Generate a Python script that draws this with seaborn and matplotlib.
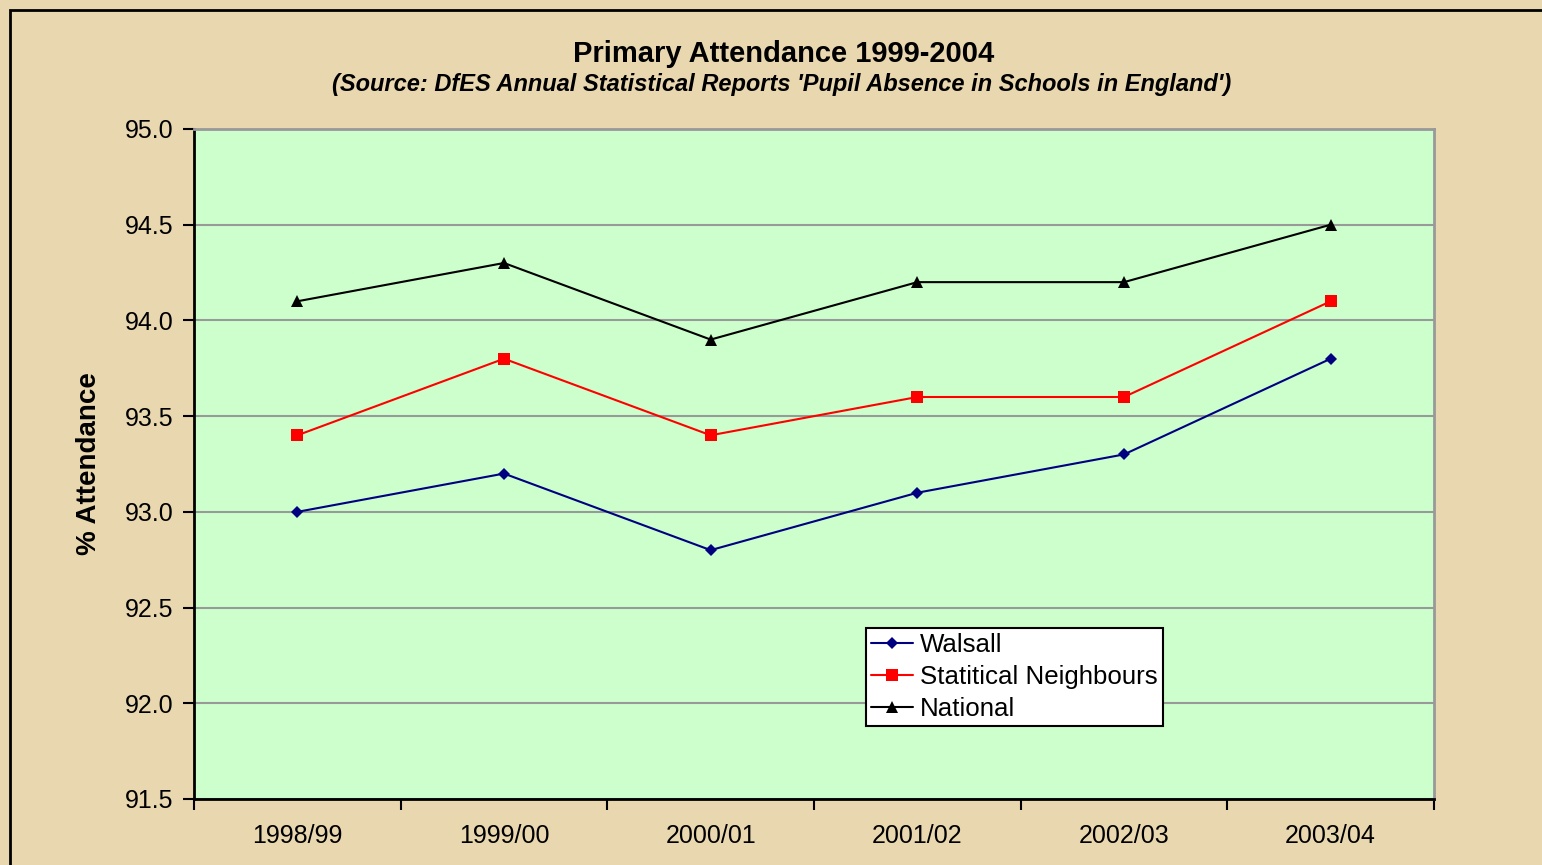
import matplotlib.pyplot as plt
import matplotlib.patches as mpatches
import pandas as pd
import seaborn as sns

years = ["1998/99", "1999/00", "2000/01", "2001/02", "2002/03", "2003/04"]
walsall = [93.0, 93.2, 92.8, 93.1, 93.3, 93.8]
neighbours = [93.4, 93.8, 93.4, 93.6, 93.6, 94.1]
national = [94.1, 94.3, 93.9, 94.2, 94.2, 94.5]

series = ["Walsall", "Statitical Neighbours", "National"]
colors = {"Walsall": "#000080", "Statitical Neighbours": "#FF0000", "National": "#000000"}
markers = {"Walsall": "D", "Statitical Neighbours": "s", "National": "^"}
sizes = {"Walsall": 6.5, "Statitical Neighbours": 8.5, "National": 9}

rows = []
for name, vals in zip(series, [walsall, neighbours, national]):
    for i, v in enumerate(vals):
        rows.append([i, v, name])
data = pd.DataFrame(rows, columns=("pos", "value", "series"))

sns.set_style("white")
plt.rcParams["font.family"] = ["Liberation Sans", "DejaVu Sans"]
plt.rcParams["text.color"] = "black"
plt.rcParams["axes.labelcolor"] = "black"
plt.rcParams["xtick.color"] = "black"
plt.rcParams["ytick.color"] = "black"

bg = "#E9D7AF"
fig = plt.figure(figsize=(15.42, 8.65), dpi=100, facecolor=bg)
ax = fig.add_axes([194 / 1542, 66 / 865, 1240 / 1542, 670 / 865])
ax.set_facecolor("#CCFFCC")

# outer chart border (only left and top visible in the crop)
fig.patches.append(mpatches.Rectangle((10 / 1542, -0.1), 1.2, (855 / 865) + 0.1,
                                      transform=fig.transFigure, fill=False,
                                      edgecolor="black", linewidth=2))

for name in series:
    sub = data[data["series"] == name]
    sns.lineplot(x="pos", y="value", data=sub, ax=ax, color=colors[name],
                 marker=markers[name], markersize=sizes[name], markeredgewidth=0,
                 linewidth=1.5, label=name)

ax.set_xlim(-0.5, 5.5)
ax.set_ylim(91.5, 95.0)
ax.set_yticks([91.5 + 0.5 * i for i in range(8)])
ax.set_yticklabels([f"{91.5 + 0.5 * i:.1f}" for i in range(8)], fontsize=18)
ax.set_xticks([i - 0.5 for i in range(7)])
ax.set_xticklabels([""] * 7)
ax.set_xticks(range(6), minor=True)
ax.set_xticklabels(years, minor=True, fontsize=18)
ax.tick_params(axis="x", which="minor", length=0, pad=18)
ax.tick_params(axis="x", which="major", length=8, width=1.5, direction="out", color="black")
ax.tick_params(axis="y", length=8, width=1.5, direction="out", color="black", pad=7)
ax.tick_params(axis="y", left=True)
ax.tick_params(axis="x", bottom=True, which="both")

ax.grid(axis="y", color="#999999", linewidth=1.5)
ax.set_axisbelow(True)
for side in ["left", "bottom"]:
    ax.spines[side].set_color("black")
    ax.spines[side].set_linewidth(2)
for side in ["top", "right"]:
    ax.spines[side].set_color("#999999")
    ax.spines[side].set_linewidth(2)

ax.set_xlabel("")
ax.set_ylabel("% Attendance", fontsize=20, fontweight="bold", labelpad=16)

fig.text(784 / 1542, 1 - 54 / 865, "Primary Attendance 1999-2004", ha="center",
         va="center", fontsize=21, fontweight="bold")
fig.text(782 / 1542, 1 - 85 / 865,
         "(Source: DfES Annual Statistical Reports 'Pupil Absence in Schools in England')",
         ha="center", va="center", fontsize=17, fontweight="bold", fontstyle="italic")

leg = ax.legend(loc="upper left", bbox_to_anchor=(866 / 1542, 1 - 628 / 865),
                bbox_transform=fig.transFigure, fontsize=18.6, frameon=True,
                fancybox=False, framealpha=1, edgecolor="black",
                borderpad=0.2, labelspacing=0.3, handlelength=1.6,
                handletextpad=0.3, borderaxespad=0)
leg.get_frame().set_linewidth(1.5)

plt.savefig("out.png", dpi=100, facecolor=bg)
